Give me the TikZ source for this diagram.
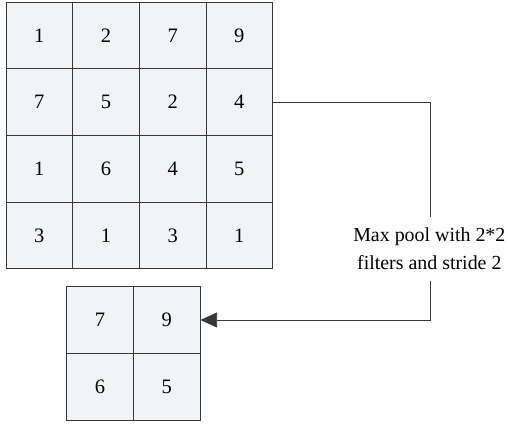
\documentclass[tikz,border=0pt]{standalone}
\usepackage{fontspec}
\setmainfont{Liberation Serif}
\usepackage{tikz}
\usetikzlibrary{arrows.meta}

\definecolor{cellgray}{RGB}{242,243,245}
\definecolor{edgegray}{RGB}{55,55,55}

\tikzset{
  cell/.style={draw=edgegray, line width=0.8pt, fill=cellgray, minimum size=2cm, inner sep=0pt, font=\fontsize{17.5}{20}\selectfont},
  link/.style={draw=edgegray, line width=0.75pt}
}

\begin{document}
\begin{tikzpicture}
\useasboundingbox (0,0) rectangle (15.24,-12.72);

% Drawing input feature map
\foreach \r/\vals in {1/{1,2,7,9},2/{7,5,2,4},3/{1,6,4,5},4/{3,1,3,1}}
  \foreach \v [count=\c] in \vals
    \node[cell] (b\r\c) at (-0.82+2*\c, 0.94-2*\r) {\v};

% Drawing pooled output
\foreach \r/\vals in {1/{7,9},2/{6,5}}
  \foreach \v [count=\c] in \vals
    \node[cell] (s\r\c) at (1+2*\c, -7.6-2*\r) {\v};

% Pooling label
\node[align=center, inner sep=0pt, minimum height=1.9cm, font=\fontsize{17}{24}\selectfont] (pool) at (12.88,-7.47) {Max pool with 2*2\\filters and stride 2};

% Drawing connector
\draw[link] (b24.east) -| ([xshift=0.04cm]pool.north);
\draw[link, -{Triangle[length=0.5cm, width=0.45cm]}] ([xshift=0.04cm]pool.south) |- (s12.east);
\end{tikzpicture}
\end{document}
